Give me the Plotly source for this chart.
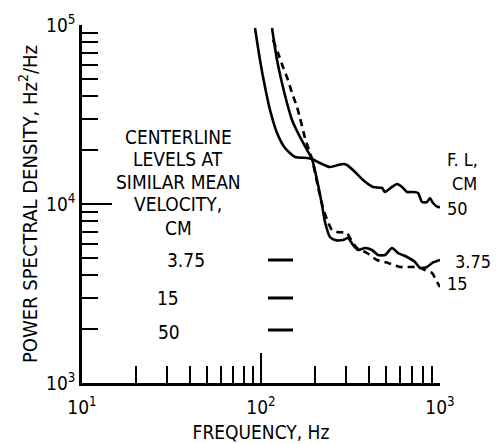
import plotly.graph_objects as go

# ---- data ----
f_50 = [92.6, 98.7, 105.3, 112.3, 122.9, 136.2, 155.0, 180.7, 192.8, 213.5, 242.9, 269.2,
        287.1, 302.3, 335.1, 371.4, 422.4, 474.2, 492.8, 539.3, 575.2, 613.4, 654.1, 706.7,
        753.7, 793.5, 846.3, 879.5, 914.1, 974.6, 1000]
psd_50 = [96200, 63750, 45040, 33510, 24930, 20550, 18310, 18070, 17840, 16940, 16090, 16510,
          16730, 16510, 15100, 13610, 12450, 12290, 11670, 12450, 12930, 12450, 11670, 11670,
          11520, 10260, 10260, 10800, 10130, 9620, 9620]

f_375 = [115.2, 122.9, 131.0, 139.7, 149.0, 160.9, 180.7, 192.8, 205.6, 219.2, 227.8, 242.9,
         259.0, 287.1, 306.2, 326.6, 348.4, 381.1, 417.0, 450.4, 492.8, 539.3, 582.7, 654.1,
         725.1, 773.3, 846.3, 902.5, 1000]
psd_375 = [96200, 63750, 47420, 36660, 29460, 24930, 20030, 17840, 13610, 9870, 7930, 6540,
           6295, 6295, 6457, 5902, 5534, 5680, 5534, 5188, 5188, 5680, 5324, 5057,
           4742, 4390, 4446, 4681, 4866]

f_15 = [116.7, 124.5, 132.7, 141.5, 149.0, 158.9, 165.2, 176.1, 187.8, 192.8, 208.3, 222.0,
        236.7, 249.3, 265.8, 302.3, 314.2, 343.9, 390.9, 444.6, 512.3, 597.8, 679.9, 753.7,
        824.8, 902.5, 962.5, 1000]
psd_15 = [82400, 69750, 58290, 49280, 41720, 34830, 30230, 23370, 19270, 17840, 12450, 9500,
          7930, 7156, 6975, 6887, 6457, 5680, 5324, 4866, 4681, 4446, 4446, 4446,
          4279, 4117, 3666, 3439]

# centerline levels at similar mean velocity (short bars)
level_labels = ["3.75", "15", "50"]
level_values = [4866, 2985, 1977]
level_f = [109.4, 151.0]

x_tickvals = [10, 100, 1000]
x_ticktext = ["10<sup>1</sup>", "10<sup>2</sup>", "10<sup>3</sup>"]
y_tickvals = [1e3, 1e4, 1e5]
y_ticktext = ["10<sup>3</sup>", "10<sup>4</sup>", "10<sup>5</sup>"]
x_minor = [m * 10 ** d for d in (1, 2) for m in range(2, 10)]
y_minor = [m * 10 ** d for d in (3, 4) for m in range(2, 10)]

FONT = "Liberation Sans Narrow, DejaVu Sans Condensed, Arial Narrow, sans-serif"
W, H = 497, 444
L, R, T, B = 82, 57, 25, 61
PW, PH = W - L - R, H - T - B


def px(x, y):
    return (x - L) / PW, (H - B - y) / PH


fig = go.Figure()
lw = 2.6
fig.add_trace(go.Scatter(x=f_50, y=psd_50, mode="lines",
                         line=dict(color="black", width=lw, shape="spline", smoothing=0.6)))
fig.add_trace(go.Scatter(x=f_375, y=psd_375, mode="lines",
                         line=dict(color="black", width=lw, shape="spline", smoothing=0.6)))
fig.add_trace(go.Scatter(x=f_15, y=psd_15, mode="lines",
                         line=dict(color="black", width=lw, dash="7px,5px", shape="spline", smoothing=0.6)))
for v in level_values:
    fig.add_trace(go.Scatter(x=level_f, y=[v, v], mode="lines",
                             line=dict(color="black", width=3)))

annos = []
# left text block
for txt, y in [("CENTERLINE", 137), ("LEVELS AT", 159), ("SIMILAR MEAN", 182),
               ("VELOCITY,", 204), ("CM", 228)]:
    xp, yp = px(178, y)
    annos.append(dict(text=txt, x=xp, y=yp, xref="paper", yref="paper",
                      showarrow=False, xanchor="center", yanchor="middle",
                      font=dict(size=19)))
for txt, x, y in [("3.75", 186, 260), ("15", 168, 298), ("50", 169, 332)]:
    xp, yp = px(x, y)
    annos.append(dict(text=txt, x=xp, y=yp, xref="paper", yref="paper",
                      showarrow=False, xanchor="center", yanchor="middle",
                      font=dict(size=19)))
# right labels
for txt, x, y in [("F. L,", 445, 159), ("CM", 450, 183),
                  ("50", 445, 208), ("3.75", 453, 261), ("15", 445, 283)]:
    xp, yp = px(x, y)
    annos.append(dict(text=txt, x=xp, y=yp, xref="paper", yref="paper",
                      showarrow=False, xanchor="left", yanchor="middle",
                      font=dict(size=18)))

axis_common = dict(type="log", showgrid=False, zeroline=False, showline=True,
                   linecolor="black", linewidth=2.5, ticks="inside", ticklen=30,
                   tickwidth=2, tickcolor="black", mirror=False, automargin=False,
                   tickfont=dict(size=19, color="black", family=FONT))

fig.update_layout(
    width=W, height=H, margin=dict(l=L, r=R, t=T, b=B),
    paper_bgcolor="white", plot_bgcolor="white", showlegend=False,
    font=dict(family=FONT, color="black", size=19),
    annotations=annos,
    xaxis=dict(range=[1, 3], tickmode="array", tickvals=x_tickvals, ticktext=x_ticktext,
               ticklabelstandoff=5,
               minor=dict(tickmode="array", tickvals=x_minor, ticks="inside", ticklen=17,
                          tickwidth=2, tickcolor="black", showgrid=False),
               title=dict(text="FREQUENCY, Hz", font=dict(size=19), standoff=10),
               **axis_common),
    yaxis=dict(range=[3, 5], tickmode="array", tickvals=y_tickvals, ticktext=y_ticktext,
               minor=dict(tickmode="array", tickvals=y_minor, ticks="inside", ticklen=16,
                          tickwidth=2, tickcolor="black", showgrid=False),
               title=dict(text="POWER SPECTRAL DENSITY, Hz<sup>2</sup>/Hz",
                          font=dict(size=20), standoff=4),
               **axis_common),
)

fig.write_html("out.html")
